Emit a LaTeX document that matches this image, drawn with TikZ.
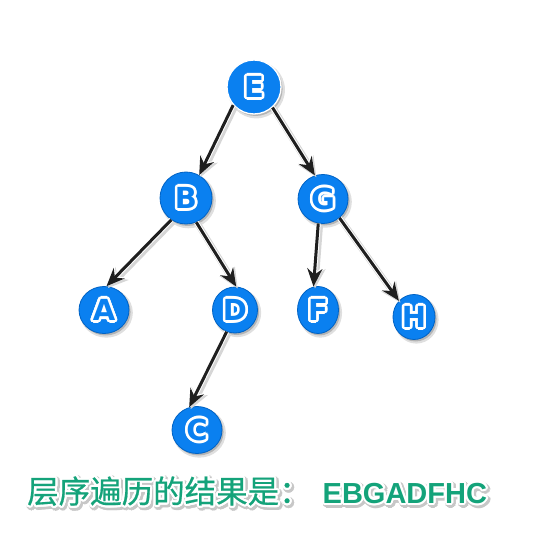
\documentclass[tikz,border=0pt]{standalone}
\usepackage{fontspec}
\usetikzlibrary{shapes.geometric,arrows.meta,shadows}
\newfontfamily\latf{Liberation Sans}
\newfontfamily\nodef{DejaVu Sans}
\newfontfamily\cjkf{Noto Sans CJK SC}[FakeBold=0.6]
\definecolor{nodeblue}{RGB}{10,128,240}
\definecolor{rimblue}{RGB}{0,98,196}
\definecolor{resgreen}{RGB}{20,163,122}
\newcommand\halotxt[3]{%
  \leavevmode\rlap{\foreach \hh in {0,22.5,...,337.5}{%
    \pgfmathsetlengthmacro\hdx{#2*cos(\hh)}%
    \pgfmathsetlengthmacro\hdy{#2*sin(\hh)}%
    \rlap{\hspace*{\hdx}\raisebox{\hdy}{\textcolor{#1}{#3}}}}}%
  #3}
\newcommand\shadowhalo[1]{%
  \leavevmode\rlap{\foreach \hh in {0,30,...,330}{%
    \pgfmathsetlengthmacro\hdx{1.5pt+3.2pt*cos(\hh)}%
    \pgfmathsetlengthmacro\hdy{-1.8pt+3.2pt*sin(\hh)}%
    \rlap{\hspace*{\hdx}\raisebox{\hdy}{\textcolor{black!22}{#1}}}}}%
  \halotxt{white}{2.2pt}{#1}}
\newcommand\vlabel[1]{{\nodef\bfseries\fontsize{29}{29}\selectfont\halotxt{white}{2.6pt}{#1}}}
\tikzset{
  vnode/.style={ellipse, inner sep=0pt, fill=nodeblue, draw=rimblue, line width=0.8pt,
    text=nodeblue,
    drop shadow={shadow xshift=2.2pt, shadow yshift=-2.6pt, opacity=0.25, shadow scale=1.06},
    drop shadow={shadow xshift=1.6pt, shadow yshift=-2pt, opacity=0.45}},
  arr/.style={draw=black!88, line width=3pt,
    -{Stealth[length=18pt,width=15pt,inset=6pt]},
    preaction={draw=black!16, line width=6.5pt, -{Stealth[length=20pt,width=18pt,inset=6pt]},
      transform canvas={shift={(1.5pt,-1.8pt)}}},
    preaction={draw=white, line width=5pt, -{Stealth[length=20pt,width=17.5pt,inset=6pt]}}},
}
\begin{document}
\begin{tikzpicture}[x=1pt,y=-1pt]
\useasboundingbox (0,0) rectangle (553,556);
\node[vnode, draw=white, line width=1.3pt, minimum width=54pt, minimum height=54pt] (E) at (254,87) {\vlabel{E}};
\node[vnode, minimum width=52pt, minimum height=52pt] (B) at (186,198) {\vlabel{B}};
\node[vnode, minimum width=50pt, minimum height=49pt] (G) at (323,199) {\vlabel{G}};
\node[vnode, minimum width=50pt, minimum height=47pt] (A) at (104,310) {\vlabel{A}};
\node[vnode, minimum width=45pt, minimum height=46pt] (D) at (235,310) {\vlabel{D}};
\node[vnode, minimum width=41pt, minimum height=47pt] (F) at (318,310) {\vlabel{F}};
\node[vnode, minimum width=42pt, minimum height=45pt] (H) at (414,317) {\vlabel{H}};
\node[vnode, minimum width=50pt, minimum height=47pt] (C) at (197,430) {\vlabel{C}};
\draw[arr] (E.221) -- (B.60);
\draw[arr] (E.312) -- (G.109);
\draw[arr] (B.236) -- (A.84);
\draw[arr] (B.293) -- (D.87);
\draw[arr] (G.259) -- (F.101);
\draw[arr] (G.311) -- (H.133);
\draw[arr] (D.249) -- (C.109);
\node[anchor=base west, inner sep=0pt, text=resgreen] (res) at (27,503)
  {\shadowhalo{\cjkf\fontsize{31.5}{32}\selectfont 层序遍历的结果是：\hspace{12pt}\latf\bfseries\fontsize{29}{28}\selectfont EBGADFHC}};
\end{tikzpicture}
\end{document}
